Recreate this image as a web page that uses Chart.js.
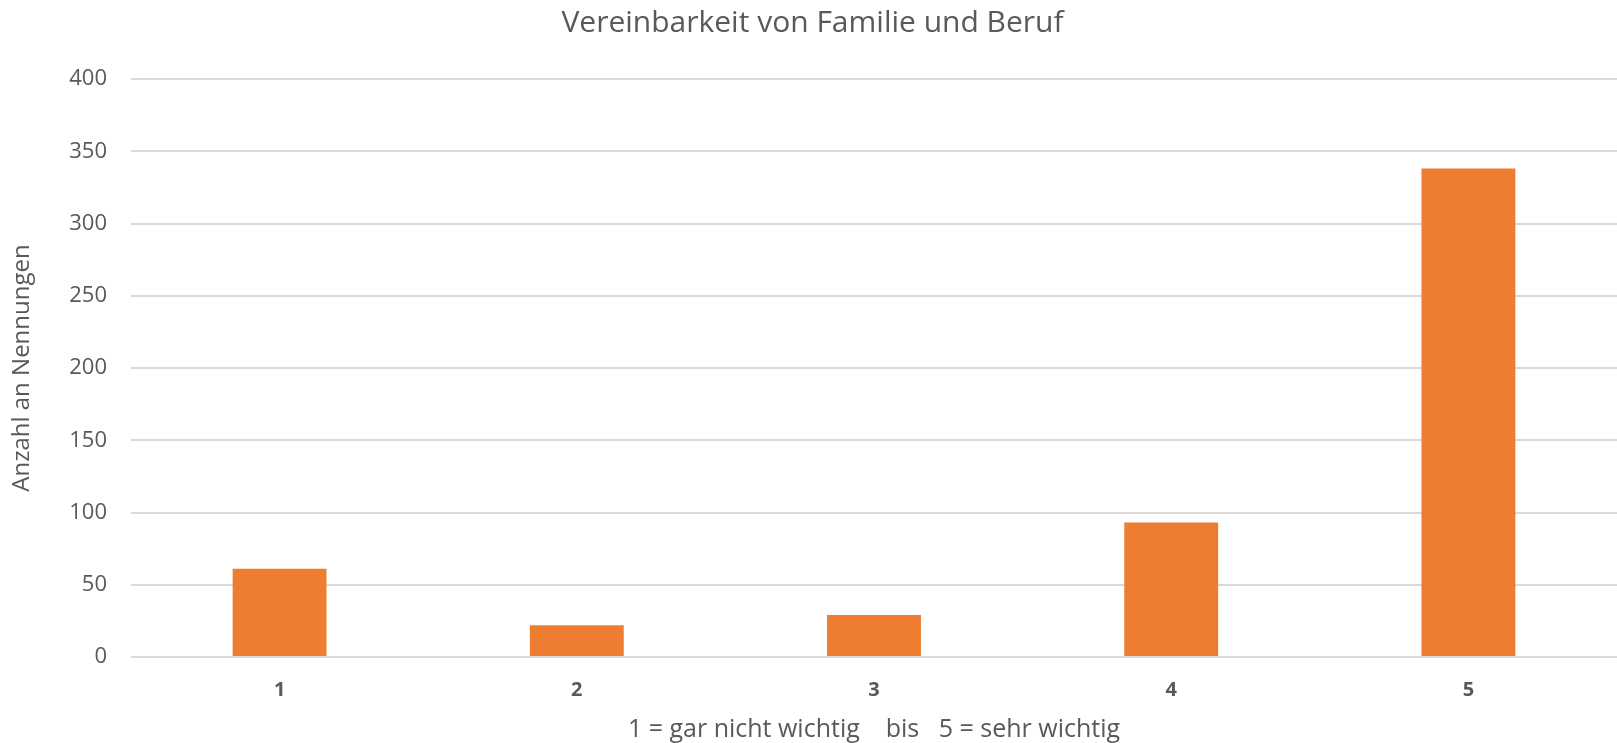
<!DOCTYPE html>
<html lang="de">
<head>
    <meta charset="UTF-8">
    <title>Vereinbarkeit von Familie und Beruf</title>
    <script src="https://cdn.jsdelivr.net/npm/chart.js"></script>
    <style>
        html, body { margin: 0; padding: 0; background: #ffffff; }
        #wrap { width: 1617px; height: 743px; }
    </style>
</head>
<body>
    <div id="wrap"><canvas id="chart" width="1617" height="743"></canvas></div>

    <script>
        // Daten
        const kategorien = ['1', '2', '3', '4', '5'];
        const nennungen = [61, 22, 29, 93, 338];
        const yTicks = [0, 50, 100, 150, 200, 250, 300, 350, 400];

        const textFarbe = '#595959';
        const schrift = "'Open Sans', 'Liberation Sans', sans-serif";

        const ctx = document.getElementById('chart').getContext('2d');
        new Chart(ctx, {
            type: 'bar',
            data: {
                labels: kategorien,
                datasets: [{
                    label: 'Anzahl an Nennungen',
                    data: nennungen,
                    backgroundColor: '#ED7D31',
                    borderWidth: 0,
                    categoryPercentage: 1.0,
                    barPercentage: 0.316
                }]
            },
            options: {
                responsive: false,
                animation: false,
                layout: { padding: { top: 0, right: 0, bottom: 0, left: 8 } },
                plugins: {
                    legend: { display: false },
                    tooltip: { enabled: false },
                    title: {
                        display: true,
                        text: 'Vereinbarkeit von Familie und Beruf',
                        color: textFarbe,
                        font: { family: schrift, size: 30, weight: 'normal' },
                        padding: { top: 5, bottom: 38 }
                    }
                },
                scales: {
                    x: {
                        grid: { display: false },
                        border: { display: false },
                        ticks: {
                            color: textFarbe,
                            font: { family: schrift, size: 20, weight: 'bold' },
                            padding: 13
                        },
                        title: {
                            display: true,
                            text: '1 = gar nicht wichtig    bis   5 = sehr wichtig',
                            color: textFarbe,
                            font: { family: schrift, size: 25 },
                            padding: { top: 0, bottom: -2 }
                        }
                    },
                    y: {
                        min: 0,
                        max: 400,
                        afterBuildTicks: axis => {
                            axis.ticks = yTicks.map(v => ({ value: v }));
                        },
                        grid: {
                            color: '#D9D9D9',
                            lineWidth: 2,
                            drawTicks: false
                        },
                        border: { display: false },
                        ticks: {
                            color: textFarbe,
                            font: { family: schrift, size: 22 },
                            padding: 24
                        },
                        title: {
                            display: true,
                            text: 'Anzahl an Nennungen',
                            color: textFarbe,
                            font: { family: schrift, size: 24 },
                            padding: { top: 0, bottom: 10 }
                        },
                        afterFit: axis => { axis.width = 123; }
                    }
                }
            }
        });
    </script>
</body>
</html>
